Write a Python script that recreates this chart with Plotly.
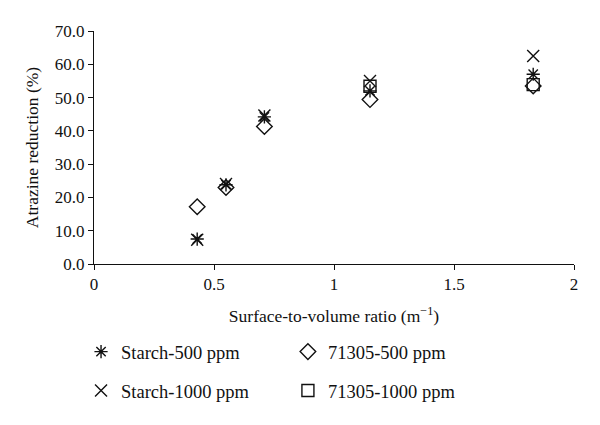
import plotly.graph_objects as go

starch500_x = [0.43, 0.55, 0.71, 1.15, 1.83]
starch500_y = [7.5, 23.8, 44.2, 52.0, 57.0]
starch1000_x = [0.43, 0.55, 0.71, 1.15, 1.83]
starch1000_y = [7.3, 24.0, 44.6, 55.0, 62.5]
p500_x = [0.43, 0.55, 0.71, 1.15, 1.83]
p500_y = [17.2, 23.0, 41.3, 49.4, 53.5]
p1000_x = [1.15, 1.83]
p1000_y = [53.4, 53.9]

FONT = "Liberation Serif"
black = "#111111"

fig = go.Figure()
series = [
    ("Starch-500 ppm", starch500_x, starch500_y, "asterisk-open", 11, "legend"),
    ("Starch-1000 ppm", starch1000_x, starch1000_y, "x-thin-open", 12, "legend2"),
    ("71305-500 ppm", p500_x, p500_y, "diamond-open", 12, "legend3"),
    ("71305-1000 ppm", p1000_x, p1000_y, "square-open", 12, "legend4"),
]
for name, xs, ys, sym, sz, lg in series:
    fig.add_trace(go.Scatter(
        x=xs, y=ys, mode="markers", name=name, legend=lg,
        marker=dict(symbol=sym, size=sz, color=black, line=dict(color=black, width=1.4)),
    ))

def leg(x, y):
    return dict(x=x, y=y, xanchor="left", yanchor="middle", bgcolor="rgba(0,0,0,0)",
                font=dict(family=FONT, size=18.5, color=black), itemwidth=30)

fig.update_layout(
    width=600, height=425,
    showlegend=True,
    margin=dict(l=86, r=34, t=23, b=169, autoexpand=False),
    paper_bgcolor="white", plot_bgcolor="white",
    font=dict(family=FONT, size=17, color=black),
    xaxis=dict(range=[0, 2], dtick=0.5, tick0=0, showline=True, linecolor=black, linewidth=1,
               ticks="outside", ticklen=5, tickcolor=black, showgrid=False, zeroline=False,
               tickfont=dict(family=FONT, size=17),
               title=dict(text="Surface-to-volume ratio (m<sup>−1</sup>)", standoff=16,
                          font=dict(family=FONT, size=17.5))),
    yaxis=dict(range=[0, 70], dtick=10, tickformat=".1f", showline=True, linecolor=black, linewidth=1,
               ticks="outside", ticklen=5, tickcolor=black, showgrid=False, zeroline=False,
               tickfont=dict(family=FONT, size=17),
               title=dict(text="Atrazine reduction (%)", standoff=11,
                          font=dict(family=FONT, size=17.5))),
    legend=leg(-0.027, -0.378),
    legend2=leg(-0.027, -0.545),
    legend3=leg(0.404, -0.378),
    legend4=leg(0.404, -0.545),
)

fig.write_html("out.html")
